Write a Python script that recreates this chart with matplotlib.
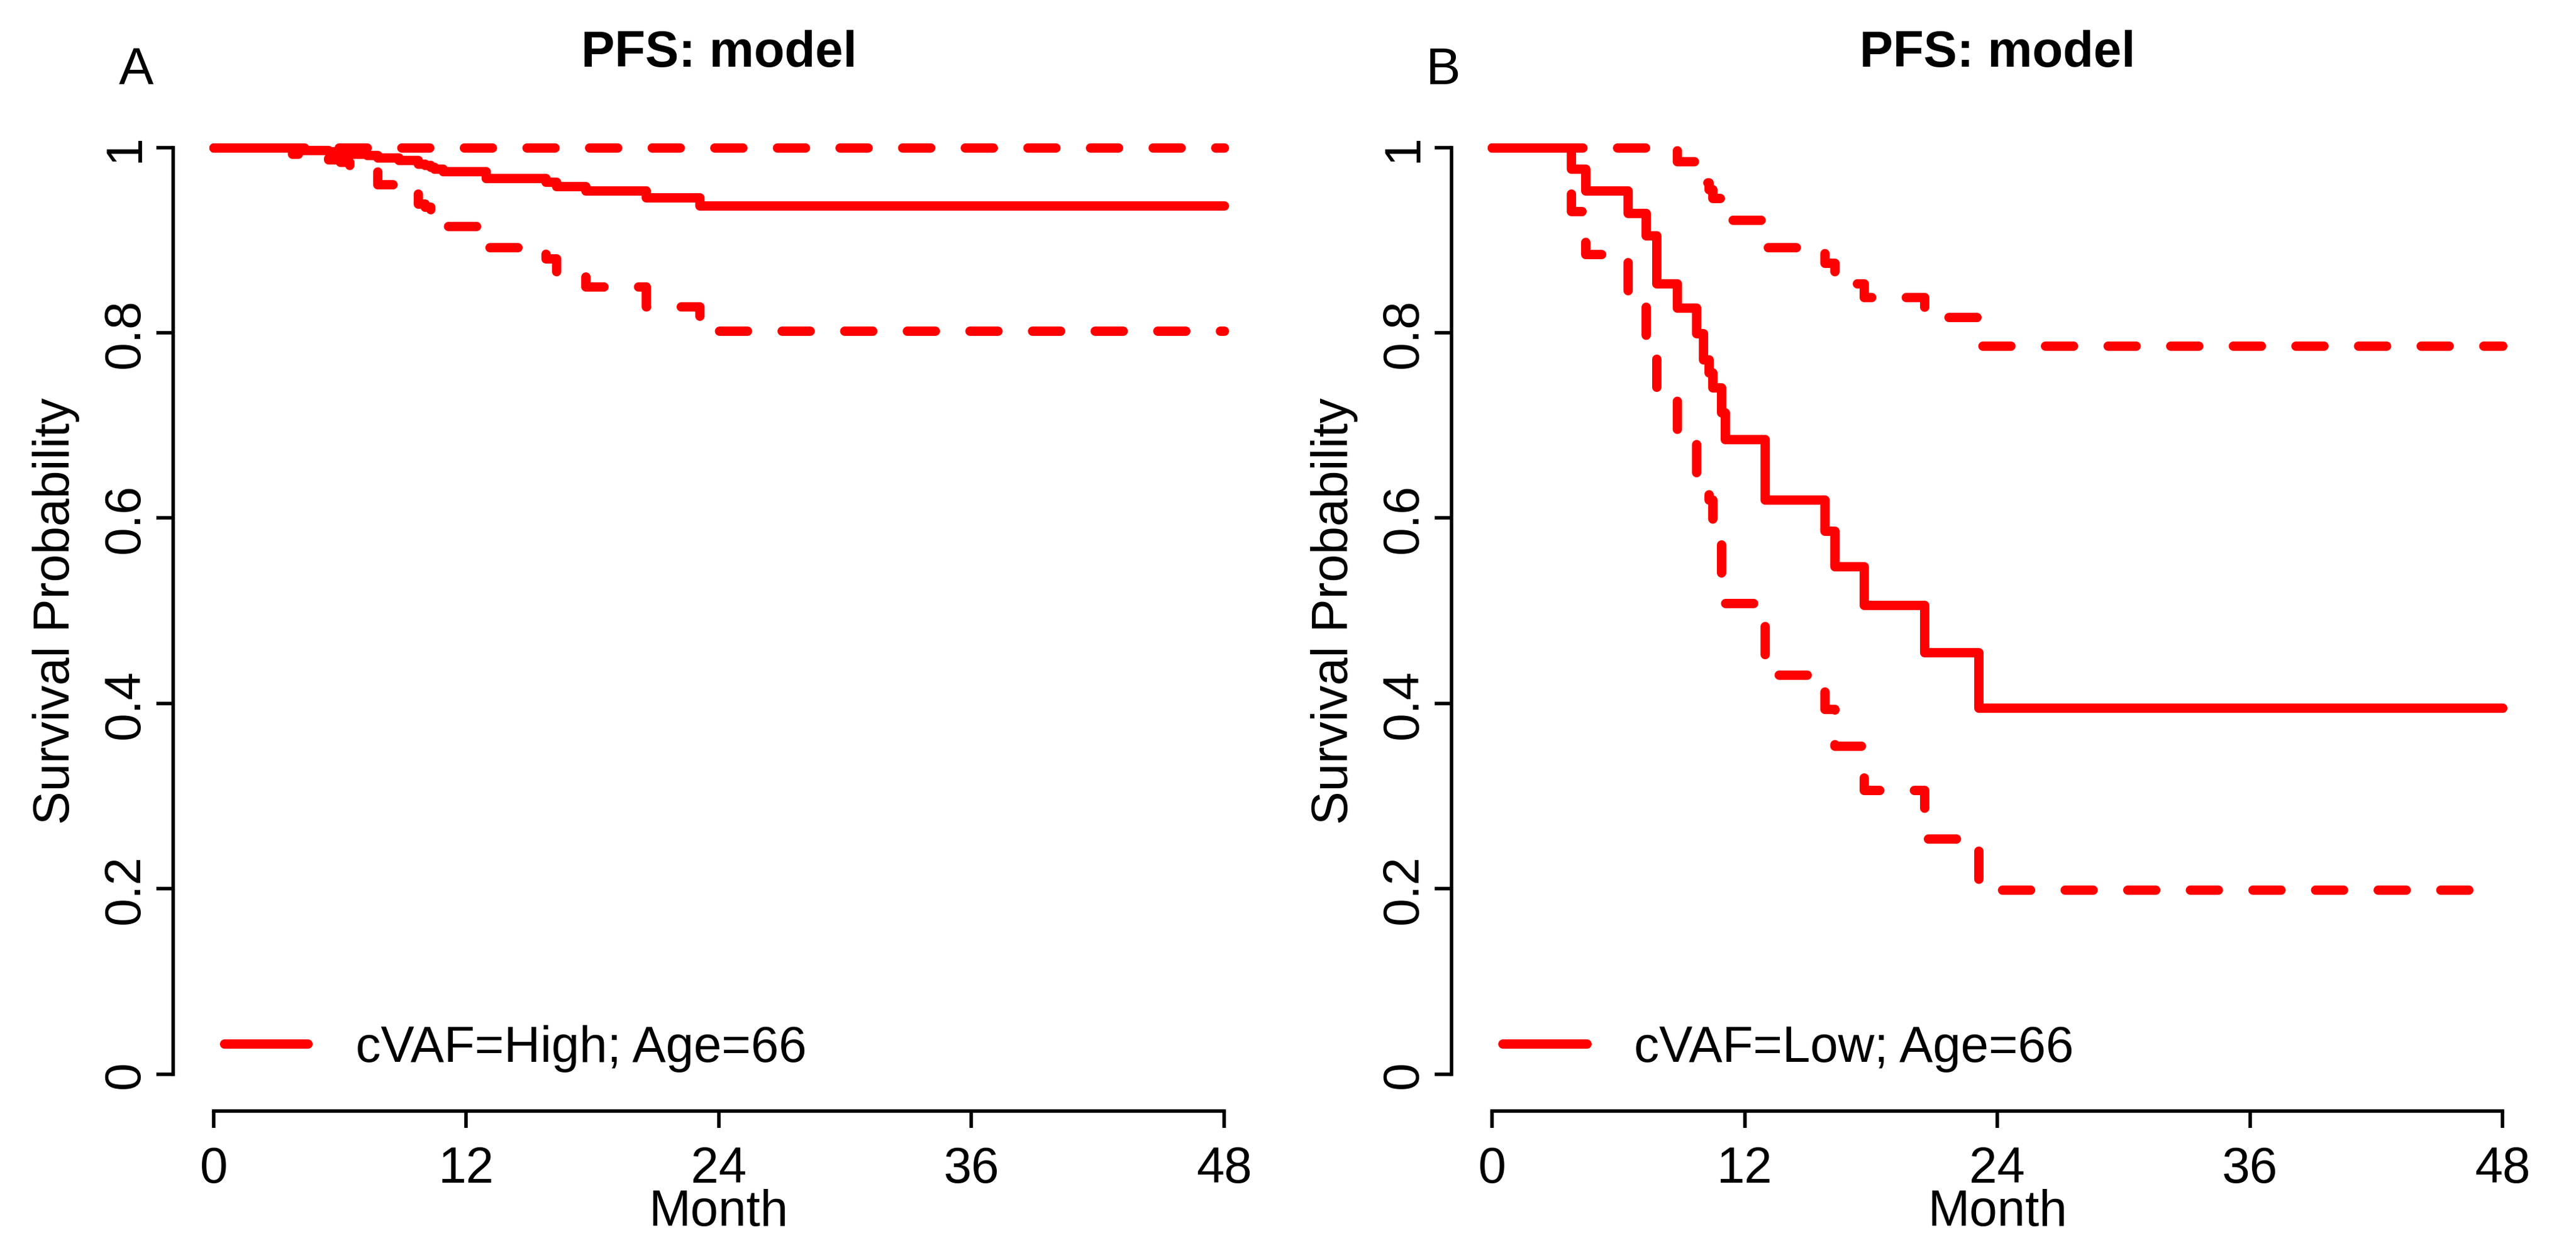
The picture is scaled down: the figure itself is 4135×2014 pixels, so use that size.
import matplotlib
matplotlib.use('Agg')
import matplotlib.pyplot as plt
from matplotlib.lines import Line2D

plt.rcParams['font.family'] = ['Liberation Sans', 'DejaVu Sans']

# 模型預測的 PFS 曲線 (月)
months = [0, 3.75, 4.45, 5.45, 6.0, 6.45, 7.3, 7.8, 8.8, 9.7, 10.03, 10.3, 10.47,
          10.9, 11.07, 12.95, 15.79, 16.27, 17.67, 20.53, 23.1, 48]

# A: cVAF=High
high_est = [1, 0.997, 0.997, 0.996, 0.994, 0.993, 0.992, 0.989, 0.986, 0.982, 0.981,
            0.979, 0.977, 0.974, 0.974, 0.967, 0.963, 0.958, 0.953, 0.946, 0.937, 0.937]
high_lo = [1, 0.993, 0.991, 0.987, 0.984, 0.981, 0.975, 0.960, 0.955, 0.939, 0.936,
           0.933, 0.929, 0.917, 0.915, 0.892, 0.880, 0.866, 0.850, 0.828, 0.802, 0.802]
high_hi = [1] * len(months)

# B: cVAF=Low
low_est = [1, 0.977, 0.953, 0.953, 0.953, 0.929, 0.905, 0.853, 0.827, 0.799, 0.771,
           0.757, 0.741, 0.714, 0.685, 0.620, 0.586, 0.548, 0.506, 0.455, 0.395, 0.395]
low_lo = [1, 0.931, 0.885, 0.885, 0.885, 0.842, 0.797, 0.728, 0.691, 0.637, 0.630,
          0.620, 0.579, 0.521, 0.508, 0.431, 0.394, 0.354, 0.3065, 0.254, 0.199, 0.199]
low_hi = [1, 1, 1, 1, 1, 1, 1, 1, 0.985, 0.973, 0.962, 0.955, 0.945, 0.934, 0.922,
          0.892, 0.875, 0.853, 0.838, 0.817, 0.786, 0.786]

panels = [
    ('A', 'cVAF=High; Age=66', high_est, high_lo, high_hi),
    ('B', 'cVAF=Low; Age=66', low_est, low_lo, low_hi),
]
xticks = [0, 12, 24, 36, 48]
yticks = [0, 0.2, 0.4, 0.6, 0.8, 1]
ytick_labels = ['0', '0.2', '0.4', '0.6', '0.8', '1']

fs = 58
lw = 10.8
fig = plt.figure(figsize=(41.35, 20.15), dpi=100)
lefts = [0.0672, 0.5635]
letter_x = [0.053, 0.56]

for i, (letter, lab, est, lo, hi) in enumerate(panels):
    ax = fig.add_axes([lefts[i], 0.1146, 0.4237, 0.797])
    ax.step(months, est, where='post', color='red', lw=lw,
            solid_joinstyle='round', solid_capstyle='round')
    for ci in (lo, hi):
        ax.step(months, ci, where='post', color='red', lw=lw, dashes=(3.0, 3.7),
                dash_capstyle='round', dash_joinstyle='round')

    ax.set_xlim(-1.92, 49.92)
    ax.set_ylim(-0.04, 1.04)
    for s in ['top', 'right']:
        ax.spines[s].set_visible(False)
    ax.spines['left'].set_bounds(0, 1)
    ax.spines['bottom'].set_bounds(0, 48)
    ax.spines['left'].set_linewidth(4)
    ax.spines['bottom'].set_linewidth(4)

    ax.set_xticks(xticks)
    ax.set_xticklabels([str(t) for t in xticks])
    ax.set_yticks(yticks)
    ax.set_yticklabels(ytick_labels)
    ax.tick_params(axis='both', length=19.4, width=4, labelsize=fs, direction='out')
    ax.tick_params(axis='x', pad=20)
    ax.tick_params(axis='y', pad=8, labelrotation=90)
    for t in ax.get_yticklabels():
        t.set_va('center')

    ax.set_xlabel('Month', fontsize=fs)
    ax.xaxis.set_label_coords(0.5, -0.077)
    ax.set_ylabel('Survival Probability', fontsize=fs, va='center')
    ax.yaxis.set_label_coords(-0.1073, 0.5)
    ax.set_title('PFS: model', fontsize=fs, fontweight='bold', pad=51)

    handle = Line2D([], [], color='red', lw=lw, solid_capstyle='round')
    ax.legend([handle], [lab], loc='center left', bbox_to_anchor=(0.0468, 0.063),
              frameon=False, fontsize=fs, handlelength=1.67, handletextpad=0.95,
              borderpad=0, borderaxespad=0)

    fig.text(letter_x[i], 0.944, letter, fontsize=60, ha='center', va='center')

plt.savefig('out.png', dpi=100)
